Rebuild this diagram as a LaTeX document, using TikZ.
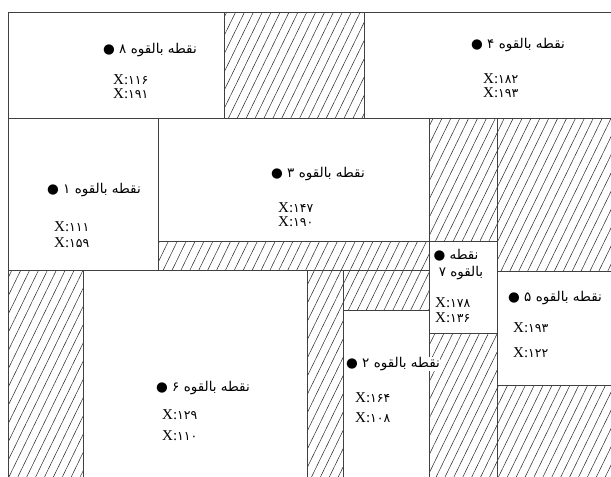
\documentclass[tikz,border=0pt]{standalone}
\usepackage{fontspec}
\setmainfont{Liberation Serif}
\newfontfamily\arabicfont[Script=Arabic]{DejaVu Sans}
\TeXXeTstate=1
\usetikzlibrary{patterns.meta}
\tikzset{
  hatch/.style={pattern={Lines[angle=64,distance=8pt,line width=0.5pt]},pattern color=black!85},
  wall/.style={draw=black!75,line width=0.8pt},
  lbl/.style={font=\arabicfont\fontsize{13.5}{15}\selectfont,fill=white,inner sep=0.6pt},
  xval/.style={font=\fontsize{15}{15}\selectfont,anchor=base west,inner sep=0pt,text height=10.5pt,text depth=1.5pt},
}
\newcommand{\fanum}[1]{{\arabicfont\fontsize{12.5}{13}\selectfont #1}}
\begin{document}
\begin{tikzpicture}[x=1pt,y=-1pt]
\useasboundingbox (0,0) rectangle (611,477);
\fill[white] (0,0) rectangle (611,477);
\clip (0,0) rectangle (611,477);
% hatched areas
\fill[hatch] (224,12) rectangle (364,118);
\fill[hatch] (158,241) rectangle (429,270);
\fill[hatch] (429,118) rectangle (497,241);
\fill[hatch] (497,118) rectangle (620,271);
\fill[hatch] (8,270) rectangle (83,490);
\fill[hatch] (307,270) rectangle (343,490);
\fill[hatch] (343,270) rectangle (429,310);
\fill[hatch] (429,333) rectangle (497,490);
\fill[hatch] (497,385) rectangle (620,490);
% outlines
\draw[wall] (8,12) rectangle (224,118);
\draw[wall] (224,12) rectangle (364,118);
\draw[wall] (364,12) rectangle (620,118);
\draw[wall] (8,118) rectangle (158,270);
\draw[wall] (158,118) rectangle (429,241);
\draw[wall] (158,241) rectangle (429,270);
\draw[wall] (429,118) rectangle (497,241);
\draw[wall] (497,118) rectangle (620,271);
\draw[wall] (429,241) rectangle (497,333);
\draw[wall] (8,270) rectangle (83,490);
\draw[wall] (83,270) rectangle (307,490);
\draw[wall] (307,270) rectangle (343,490);
\draw[wall] (343,270) rectangle (429,310);
\draw[wall] (343,310) rectangle (429,490);
\draw[wall] (429,333) rectangle (497,490);
\draw[wall] (497,271) rectangle (620,385);
\draw[wall] (497,385) rectangle (620,490);
% box 8
\node[lbl] (l8) at (150,50) {\beginR نقطه بالقوه ۸ ●\endR};
\node[xval] (x8a) at (113,84) {X:\fanum{۱۱۶}};
\node[xval] (x8b) at (113,98) {X:\fanum{۱۹۱}};
% box 4
\node[lbl] (l4) at (518,45) {\beginR نقطه بالقوه ۴ ●\endR};
\node[xval] (x4a) at (483,83) {X:\fanum{۱۸۲}};
\node[xval] (x4b) at (483,97) {X:\fanum{۱۹۳}};
% box 1
\node[lbl] (l1) at (94,190) {\beginR نقطه بالقوه ۱ ●\endR};
\node[xval] (x1a) at (54,231) {X:\fanum{۱۱۱}};
\node[xval] (x1b) at (54,247) {X:\fanum{۱۵۹}};
% box 3
\node[lbl] (l3) at (318,174) {\beginR نقطه بالقوه ۳ ●\endR};
\node[xval] (x3a) at (278,212) {X:\fanum{۱۴۷}};
\node[xval] (x3b) at (278,226) {X:\fanum{۱۹۰}};
% box 7
\node[lbl] (l7a) at (456,255) {\beginR نقطه ●\endR};
\node[lbl] (l7b) at (461,273) {\beginR بالقوه ۷\endR};
\node[xval] (x7a) at (435,307) {X:\fanum{۱۷۸}};
\node[xval] (x7b) at (435,322) {X:\fanum{۱۳۶}};
% box 5
\node[lbl] (l5) at (555,298) {\beginR نقطه بالقوه ۵ ●\endR};
\node[xval] (x5a) at (513,332) {X:\fanum{۱۹۳}};
\node[xval] (x5b) at (513,357) {X:\fanum{۱۲۲}};
% box 2
\node[lbl] (l2) at (393,364) {\beginR نقطه بالقوه ۲ ●\endR};
\node[xval] (x2a) at (355,402) {X:\fanum{۱۶۴}};
\node[xval] (x2b) at (355,422) {X:\fanum{۱۰۸}};
% box 6
\node[lbl] (l6) at (203,388) {\beginR نقطه بالقوه ۶ ●\endR};
\node[xval] (x6a) at (162,419) {X:\fanum{۱۲۹}};
\node[xval] (x6b) at (162,440) {X:\fanum{۱۱۰}};
\end{tikzpicture}
\end{document}
